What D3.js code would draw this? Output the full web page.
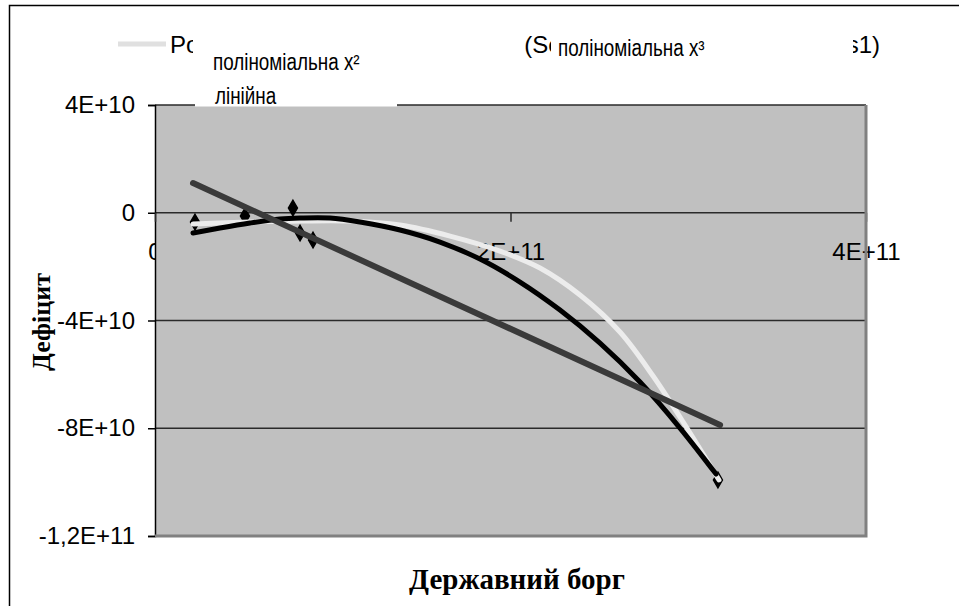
<!DOCTYPE html>
<html>
<head>
<meta charset="utf-8">
<script src="https://cdn.jsdelivr.net/npm/d3@7"></script>
<style>
    body { margin: 0; background: #fff; }
    .tick text { font-family: "Liberation Sans", Arial, sans-serif; font-size: 24px; fill: #000; }
    .title { font-family: "Liberation Serif", "Times New Roman", serif; font-weight: bold; fill: #000; }
    .legend { font-family: "Liberation Sans", Arial, sans-serif; font-size: 24px; fill: #000; }
    .note { font-family: "Liberation Sans", Arial, sans-serif; font-size: 23px; fill: #000; }
</style>
</head>
<body>
<div id="chart"></div>
<script>
// Series1 points (державний борг, дефіцит)
const seriesX = [2.25e10, 5.06e10, 7.76e10, 8.16e10, 8.89e10, 3.167e11];
const seriesY = [-3.45e9, -1.22e9, 1.74e9, -7.54e9, -1.013e10, -9.92e10];

// trend lines
const poly2X = [2.14e10, 5.34e10, 8.16e10, 1.097e11, 1.378e11, 1.66e11, 1.941e11, 2.166e11, 2.391e11, 2.616e11, 2.802e11, 2.982e11, 3.173e11];
const poly2Y = [-4.19e9, -3.45e9, -3.08e9, -3.08e9, -4.57e9, -8.65e9, -1.422e10, -2.053e10, -3.055e10, -4.428e10, -6.062e10, -7.881e10, -9.92e10];

const poly3X = [2.138e10, 3.657e10, 5.345e10, 7.033e10, 8.158e10, 9.846e10, 1.1533e11, 1.3784e11, 1.6034e11, 1.8285e11, 2.0535e11, 2.2785e11, 2.5036e11, 2.7286e11, 2.9537e11, 3.1562e11];
const poly3Y = [-7.54e9, -5.68e9, -3.82e9, -2.34e9, -1.97e9, -1.97e9, -3.45e9, -6.42e9, -1.088e10, -1.719e10, -2.572e10, -3.612e10, -4.837e10, -6.284e10, -7.992e10, -9.7e10];

const linearX = [2.14e10, 3.179e11];
const linearY = [1.102e10, -7.881e10];

// axes
const yTicks = [-1.2e11, -8e10, -4e10, 0, 4e10];
const yTickLabels = ["-1,2E+11", "-8E+10", "-4E+10", "0", "4E+10"];
const xTicks = [0, 2e11, 4e11];
const xTickLabels = ["0", "2E+11", "4E+11"];

const legendLabels = ["Poly. (Series1)", "Poly. (Series1)", "Linear (Series1)"];
const noteLabels = ["поліноміальна x²", "поліноміальна x³", "лінійна"];

const width = 959, height = 606;
const plot = {left: 155, right: 866, top: 105, bottom: 536};

const svg = d3.select('#chart').append('svg')
    .attr('width', width)
    .attr('height', height);

// outer frame (runs off the right and bottom edges)
svg.append('rect')
    .attr('x', 9.5).attr('y', 5.5)
    .attr('width', 1000).attr('height', 700)
    .attr('fill', '#fff')
    .attr('stroke', '#000')
    .attr('stroke-width', 1.5);

let x = d3.scaleLinear().domain([0, 4e11]).range([plot.left, plot.right]);
let y = d3.scaleLinear().domain([-1.2e11, 4e10]).range([plot.bottom, plot.top]);

// plot area
svg.append('rect')
    .attr('x', plot.left).attr('y', plot.top)
    .attr('width', plot.right - plot.left).attr('height', plot.bottom - plot.top)
    .attr('fill', '#c0c0c0');

// gridlines
svg.append('g').selectAll('line')
    .data(yTicks.filter(d => d > -1.2e11))
    .enter().append('line')
    .attr('x1', plot.left).attr('x2', plot.right)
    .attr('y1', d => y(d)).attr('y2', d => y(d))
    .attr('stroke', '#2a2a2a')
    .attr('stroke-width', 1.5);

// y axis
let yAxis = d3.axisLeft(y)
    .tickValues(yTicks)
    .tickFormat((d, i) => yTickLabels[i])
    .tickSize(7)
    .tickPadding(13);
let yAxisG = svg.append('g')
    .attr('transform', `translate(${plot.left},0)`)
    .call(yAxis);
yAxisG.select('.domain').attr('stroke', '#000').attr('stroke-width', 1.5);
yAxisG.selectAll('.tick line').attr('stroke', '#000').attr('stroke-width', 1.5);

// x axis sits at y = 0
let xAxis = d3.axisBottom(x)
    .tickValues(xTicks)
    .tickFormat((d, i) => xTickLabels[i])
    .tickSize(9)
    .tickPadding(21);
let xAxisG = svg.append('g')
    .attr('transform', `translate(0,${y(0)})`)
    .call(xAxis);
xAxisG.select('.domain').remove();
xAxisG.selectAll('.tick line').attr('stroke', '#2a2a2a').attr('stroke-width', 1.5);

// the "0" label is half hidden behind the axis
svg.append('clipPath').attr('id', 'zeroClip')
    .append('rect').attr('x', 0).attr('y', 0).attr('width', plot.left).attr('height', height);
xAxisG.selectAll('.tick').filter(d => d === 0).select('text').remove();
svg.append('text')
    .attr('class', 'legend')
    .attr('x', plot.left).attr('y', y(0) + 30)
    .attr('dy', '0.71em')
    .attr('text-anchor', 'middle')
    .attr('clip-path', 'url(#zeroClip)')
    .text(xTickLabels[0]);

// plot border on right / bottom, over the labels
svg.append('path')
    .attr('d', `M${plot.right},${plot.top}V${plot.bottom}H${plot.left}`)
    .attr('fill', 'none')
    .attr('stroke', '#808080')
    .attr('stroke-width', 3);

// series points (mostly hidden under the trend lines)
let seriesData = seriesX.map((d, i) => ({x: d, y: seriesY[i]}));
svg.append('g').selectAll('path')
    .data(seriesData)
    .enter().append('path')
    .attr('d', d3.symbol().type(d3.symbolDiamond).size(70))
    .attr('transform', d => `translate(${x(d.x)},${y(d.y)})`)
    .attr('fill', '#000')
    .attr('stroke', '#000')
    .attr('stroke-width', 1.5);

// trend lines
let line = d3.line().x(d => x(d.x)).y(d => y(d.y)).curve(d3.curveCatmullRom.alpha(0.5));
let trends = [
    {xs: poly2X, ys: poly2Y, color: '#ececec', w: 5},
    {xs: poly3X, ys: poly3Y, color: '#000', w: 5},
    {xs: linearX, ys: linearY, color: '#3a3a3a', w: 6}
];
trends.forEach(t => {
    svg.append('path')
        .datum(t.xs.map((d, i) => ({x: d, y: t.ys[i]})))
        .attr('d', line)
        .attr('fill', 'none')
        .attr('stroke', t.color)
        .attr('stroke-width', t.w)
        .attr('stroke-linecap', 'round')
        .attr('stroke-linejoin', 'round');
});

// axis titles
svg.append('text')
    .attr('class', 'title')
    .attr('font-size', 29)
    .attr('x', 517).attr('y', 589)
    .attr('text-anchor', 'middle')
    .text('Державний борг');

svg.append('text')
    .attr('class', 'title')
    .attr('font-size', 26)
    .attr('transform', 'translate(50,322) rotate(-90)')
    .attr('text-anchor', 'middle')
    .text('Дефіцит');

// legend (partly covered by white boxes with the Ukrainian names)
svg.append('line')
    .attr('x1', 118).attr('x2', 166)
    .attr('y1', 44).attr('y2', 44)
    .attr('stroke', '#e0e0e0')
    .attr('stroke-width', 5);

svg.append('text').attr('class', 'legend').attr('x', 170).attr('y', 53).text(legendLabels[0]);
svg.append('text').attr('class', 'legend').attr('x', 466).attr('y', 53).text(legendLabels[1]);
svg.append('text').attr('class', 'legend').attr('x', 880).attr('y', 53)
    .attr('text-anchor', 'end').text(legendLabels[2]);

let boxes = [
    {x: 193, y: 25, w: 328, h: 55},
    {x: 551, y: 25, w: 302, h: 48},
    {x: 195, y: 80, w: 202, h: 26.5}
];
svg.append('g').selectAll('rect')
    .data(boxes)
    .enter().append('rect')
    .attr('x', d => d.x).attr('y', d => d.y)
    .attr('width', d => d.w).attr('height', d => d.h)
    .attr('fill', '#fff');

// narrow lettering, as in the pasted boxes
let notePos = [[213, 70], [558, 56], [215, 104]];
svg.append('g').selectAll('text')
    .data(noteLabels)
    .enter().append('text')
    .attr('class', 'note')
    .attr('transform', (d, i) => `translate(${notePos[i][0]},${notePos[i][1]}) scale(0.82,1)`)
    .text(d => d);
</script>
</body>
</html>
